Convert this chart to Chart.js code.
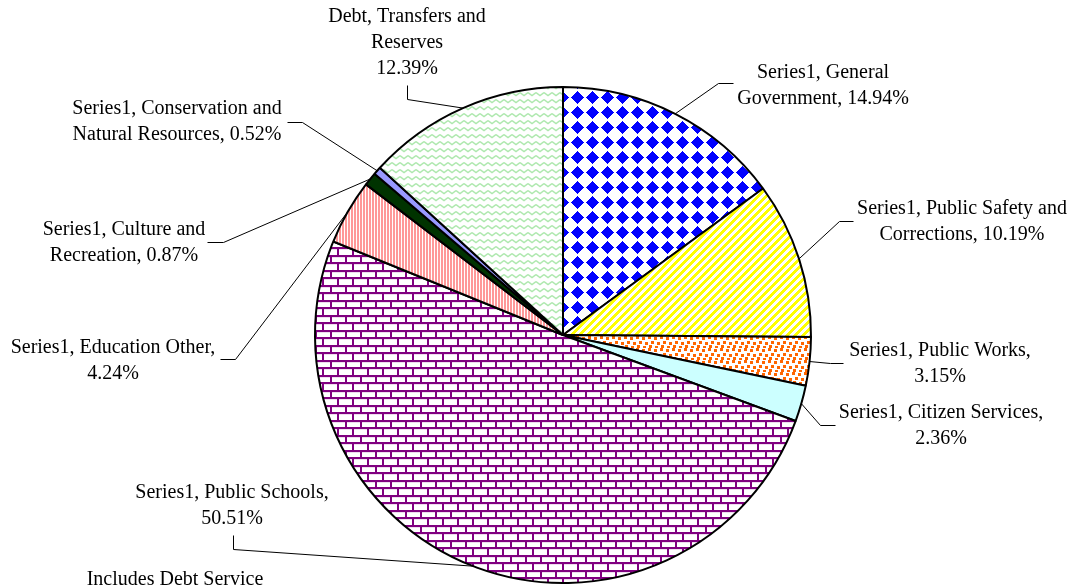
<!DOCTYPE html>
<html>
<head>
<meta charset="utf-8">
<script src="https://cdn.jsdelivr.net/npm/chart.js@4"></script>
<style>
  html, body { margin: 0; padding: 0; background: #fff; }
  #wrap { width: 1073px; height: 588px; }
</style>
</head>
<body>
<div id="wrap"><canvas id="pie" width="1073" height="588"></canvas></div>
<script>
const categories = [
  "General Government", "Public Safety and Corrections", "Public Works", "Citizen Services",
  "Public Schools", "Education Other", "Culture and Recreation",
  "Conservation and Natural Resources", "Debt, Transfers and Reserves"
];
// slice sizes (debt slice is drawn wider than its printed 12.39%)
const values = [14.94, 10.19, 3.15, 2.36, 50.51, 4.24, 0.87, 0.52, 13.22];
const labelLines = [
  ["Series1, General", "Government, 14.94%"],
  ["Series1, Public Safety and", "Corrections, 10.19%"],
  ["Series1, Public Works,", "3.15%"],
  ["Series1, Citizen Services,", "2.36%"],
  ["Series1, Public Schools,", "50.51%"],
  ["Series1, Education Other,", "4.24%"],
  ["Series1, Culture and", "Recreation, 0.87%"],
  ["Series1, Conservation and", "Natural Resources, 0.52%"],
  ["Debt, Transfers and", "Reserves", "12.39%"]
];
const note = "Includes Debt Service";

// label placement: text centre x, first line centre y, leader start, leader elbow
const labelLayout = [
  [823, 72, 733, 83, 718, 83],
  [962, 208, 853, 221, 839, 221],
  [940, 350, 843, 363, 830, 363],
  [941, 412, 835, 425, 820, 425],
  [232, 492, 233, 535, 233, 549],
  [113, 347, 220, 359, 235, 359],
  [124, 229, 207, 242, 223, 242],
  [177, 108, 287, 122, 302, 122],
  [407, 16, 407, 85, 407, 99]
];

// fill patterns, pixel painted
function tile(w, h, paint) {
  const c = document.createElement("canvas");
  c.width = w; c.height = h;
  const g = c.getContext("2d");
  g.fillStyle = "#fff";
  g.fillRect(0, 0, w, h);
  paint(g, w, h);
  return g.createPattern(c, "repeat");
}
function pixels(fn) {
  return (g, w, h) => {
    for (let y = 0; y < h; y++) for (let x = 0; x < w; x++) {
      const col = fn(x, y);
      if (col) { g.fillStyle = col; g.fillRect(x, y, 1, 1); }
    }
  };
}

const diamonds = tile(15, 15, pixels((x, y) => Math.abs(x - 7) + Math.abs(y - 7) <= 6 ? "#0000ff" : null));
const yellowStripes = tile(8, 8, pixels((x, y) => (x + y) % 8 < 4 ? "#ffff00" : null));
const confetti = tile(12, 12, g => {
  g.fillStyle = "#ff6600";
  [[0, 0], [6, 1], [3, 5], [9, 6], [1, 9], [7, 10]].forEach(([x, y]) => g.fillRect(x, y, 3, 3));
});
const bricks = tile(15, 15, pixels((x, y) => {
  if (y === 0 || y === 1 || y === 7 || y === 8) return "#800080";
  if (y < 7 && (x === 0 || x === 1)) return "#800080";
  if (y > 8 && (x === 7 || x === 8)) return "#800080";
  if (y === 2 || y === 9) return "#eedcee";
  return null;
}));
const pinkStripes = tile(3, 1, pixels(x => x < 2 ? "#ff9999" : null));
const zigzag = tile(8, 7, g => {
  g.strokeStyle = "#aee8ae";
  g.lineWidth = 1.4;
  g.beginPath();
  g.moveTo(0, 1.5); g.lineTo(4, 4.5); g.lineTo(8, 1.5);
  g.stroke();
});

const fills = [diamonds, yellowStripes, confetti, "#ccffff", bricks, pinkStripes, "#003300", "#9999ff", zigzag];

const leaderLabels = {
  id: "leaderLabels",
  afterDatasetsDraw(chart) {
    const ctx = chart.ctx;
    const arcs = chart.getDatasetMeta(0).data;
    ctx.save();
    ctx.strokeStyle = "#000";
    ctx.lineWidth = 1;
    ctx.fillStyle = "#000";
    ctx.font = '20px "Liberation Serif", "Times New Roman", serif';
    ctx.textAlign = "center";
    ctx.textBaseline = "alphabetic";
    arcs.forEach((arc, i) => {
      const [tx, ty, sx, sy, ex, ey] = labelLayout[i];
      const mid = (arc.startAngle + arc.endAngle) / 2;
      const px = arc.x + Math.cos(mid) * arc.outerRadius;
      const py = arc.y + Math.sin(mid) * arc.outerRadius;
      ctx.beginPath();
      ctx.moveTo(sx + 0.5, sy + 0.5);
      ctx.lineTo(ex + 0.5, ey + 0.5);
      ctx.lineTo(px, py);
      ctx.stroke();
      labelLines[i].forEach((t, k) => ctx.fillText(t, tx, ty + 6 + k * 26));
    });
    ctx.fillText(note, 175, 585);
    ctx.restore();
  }
};

new Chart(document.getElementById("pie"), {
  type: "pie",
  data: {
    labels: categories,
    datasets: [{
      data: values,
      backgroundColor: fills,
      borderColor: "#000",
      borderWidth: 2,
      hoverOffset: 0
    }]
  },
  options: {
    responsive: false,
    animation: false,
    events: [],
    layout: { padding: { top: 86, bottom: 4, left: 53, right: 0 } },
    plugins: { legend: { display: false }, tooltip: { enabled: false } }
  },
  plugins: [leaderLabels]
});
</script>
</body>
</html>
